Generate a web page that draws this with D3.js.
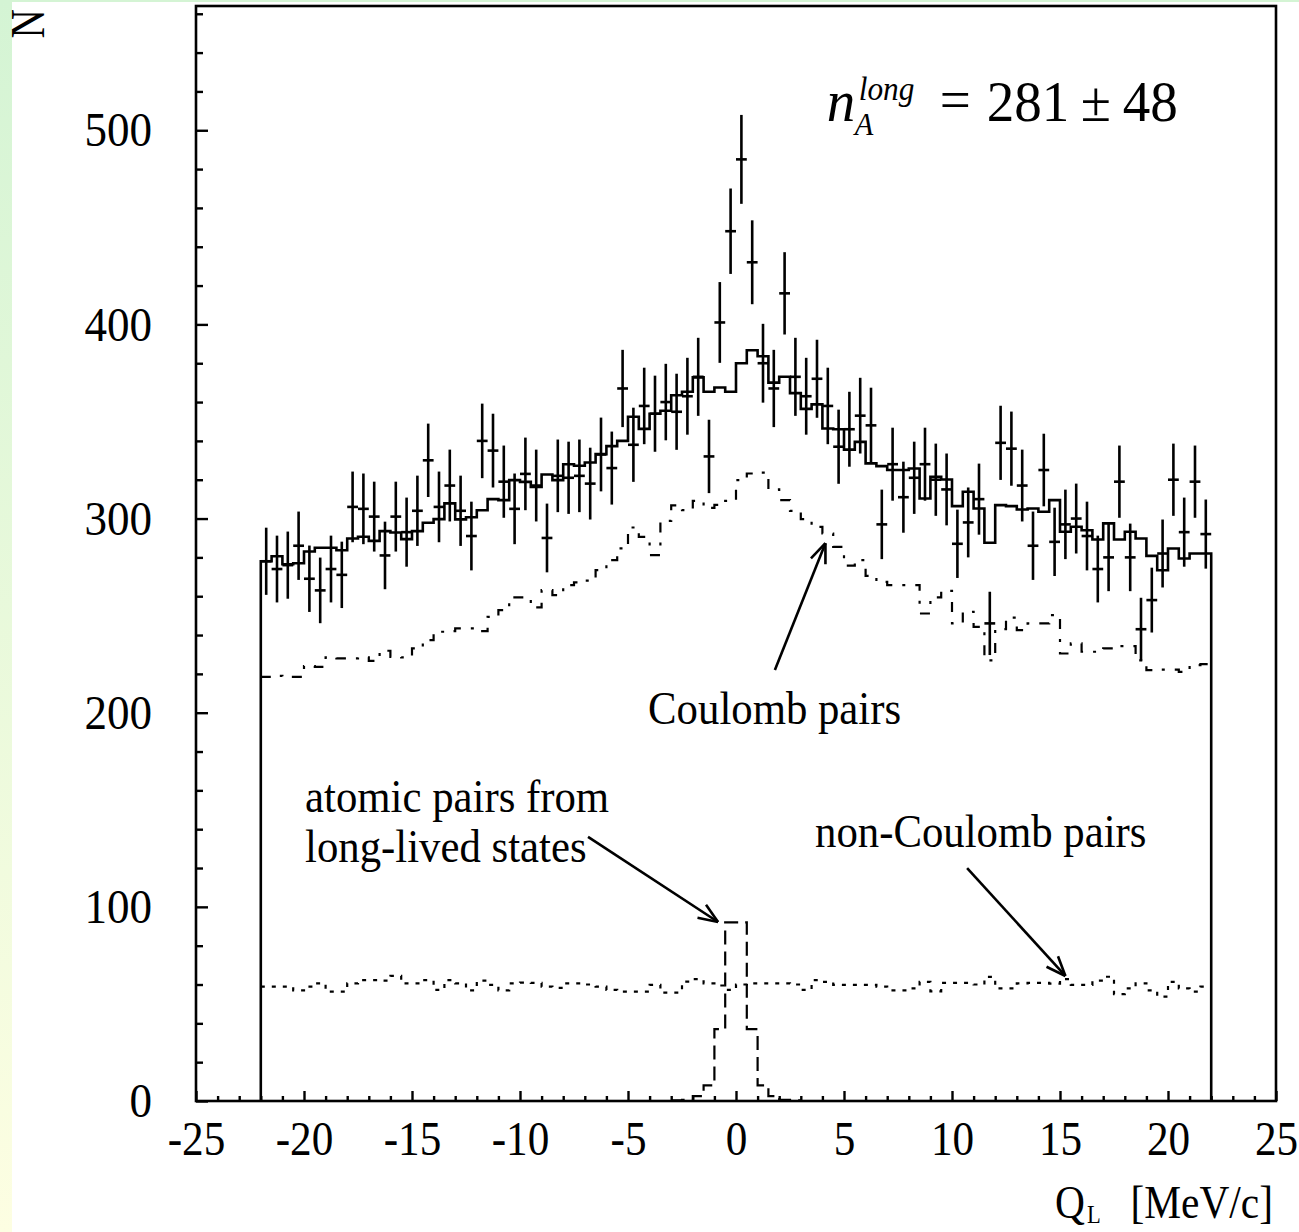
<!DOCTYPE html>
<html>
<head>
<meta charset="utf-8">
<script src="https://cdn.jsdelivr.net/npm/d3@7"></script>
<style>
  body { margin: 0; }
  svg { display: block; }
</style>
</head>
<body>
<svg id="chart" width="1299" height="1232"></svg>
<script>
// Histogram binning along Q_L (MeV/c)
const binLow = -22;
const binWidth = 0.5;

// Measured spectrum (counts per bin) and its errors
const dataCounts = [278, 274, 276, 286, 269, 263, 274, 271, 306, 305, 301, 281, 301, 293, 304, 330,
  306, 317, 304, 291, 340, 335, 319, 305, 323, 317, 290, 322, 321, 322, 318, 333,
  326, 367, 338, 358, 354, 360, 355, 363, 373, 332, 401, 448, 485, 432, 380, 367,
  416, 373, 363, 372, 358, 337, 346, 353, 348, 297, 328, 311, 321, 328, 320, 315,
  287, 298, 310, 246, 339, 336, 317, 286, 325, 288, 297, 300, 291, 274, 280, 319,
  280, 243, 258, 282, 320, 293, 319, 292];
const dataErrors = [17.3, 17.2, 17.3, 17.6, 17.1, 16.9, 17.2, 17.1, 18.2, 18.2, 18.0, 17.4, 18.0, 17.8, 18.1, 18.9,
  18.2, 18.5, 18.1, 17.7, 19.2, 19.0, 18.6, 18.2, 18.7, 18.5, 17.7, 18.7, 18.6, 18.7, 18.5, 19.0,
  18.8, 19.9, 19.1, 19.7, 19.6, 19.7, 19.6, 19.8, 20.1, 18.9, 20.8, 22.0, 22.9, 21.6, 20.3, 19.9,
  21.2, 20.1, 19.8, 20.1, 19.7, 19.1, 19.3, 19.5, 19.4, 17.9, 18.8, 18.3, 18.6, 18.8, 18.6, 18.5,
  17.6, 18.0, 18.3, 16.3, 19.1, 19.1, 18.5, 17.6, 18.7, 17.6, 17.9, 18.0, 17.7, 17.2, 17.4, 18.6,
  17.4, 16.2, 16.7, 17.5, 18.6, 17.8, 18.6, 17.8];

// Fitted sum (solid histogram)
const fitCounts = [278, 280.6, 276.5, 277, 283, 285, 285, 283.7, 289.7, 290.6, 288.5, 293.5, 292.8, 289.4, 293.5, 297.8,
  299.7, 307.8, 299.6, 300.7, 304.3, 310, 309.5, 319.8, 318.9, 316.3, 322.7, 319.8, 328, 327.2, 328.9, 333.2,
  337.3, 340, 352.4, 346.2, 354, 355.5, 363.5, 365.3, 372.7, 365.3, 367.5, 365.3, 380, 386.7, 383.6, 370,
  373, 364.6, 356.5, 358.8, 346.4, 346, 335.5, 339.5, 328.4, 327, 325, 325, 325.8, 310.3, 321.5, 320.1,
  306.4, 313.8, 305.2, 287.5, 306.9, 306.4, 304.7, 305.2, 303.5, 309.5, 293.2, 295.8, 294, 289.2, 297.5, 289.2,
  293.2, 289.7, 280.8, 273.4, 284.6, 279.4, 282, 282];

// Coulomb pairs component (dash-dotted)
const coulombCounts = [218.5, 219, 218.5, 218.5, 224, 223.6, 228.5, 228, 228, 228.5, 226.7, 231.9, 228.8, 228.5, 233.1, 237.4,
  241.7, 242, 243.4, 243.4, 242, 249.4, 252.8, 259.4, 259.4, 254.2, 263.1, 260.6, 265.7, 267.1, 268, 273.4,
  278.6, 284.6, 295.4, 290.6, 281.2, 298.8, 306.8, 304.3, 309.1, 305.5, 307, 309.1, 319.8, 323.2, 323.7, 315,
  309.5, 304, 299.7, 295.7, 292.3, 285.4, 275.8, 278.6, 270.5, 267.4, 265.7, 265.7, 265.7, 251.1, 259.4, 262.8,
  246, 252, 244.2, 227, 243, 249, 242.5, 246, 246, 250.3, 230.5, 235.7, 231.4, 231.4, 233.1, 234.3,
  234.3, 227, 221.9, 222.2, 222.2, 221, 224.5, 225];

// Non-Coulomb pairs component (dotted)
const nonCoulombCounts = [58.9, 58.9, 58.9, 57, 58.9, 60.6, 56.3, 56.3, 60.6, 62.3, 62.3, 62, 64.4, 60.6, 60.6, 62.3,
  57.2, 62.3, 60.6, 57, 62, 59.8, 57, 60.6, 61, 60.8, 58.9, 58.3, 60.6, 60.6, 60, 58.9,
  57.2, 56.3, 56.3, 56.3, 59.8, 55.8, 55.8, 61.5, 62.8, 60.6, 59.5, 57.2, 60, 60.6, 60.6, 60.6,
  60.6, 60, 57.2, 62.3, 61.4, 59.8, 59.8, 59.8, 59.8, 58.9, 57, 57, 58, 61.4, 56.5, 60.8,
  60.8, 60.8, 60, 63.9, 58, 58, 60.6, 60.8, 60.8, 60.5, 62.8, 59.8, 59.8, 62, 64, 55,
  58, 60.6, 57, 53.8, 61.4, 58, 56.3, 58.9];

// Atomic pairs from long-lived states (dashed), bins 38..49
const atomicFirstBin = 38;
const atomicCounts = [0.3, 0.6, 2.5, 8, 37, 92, 92, 37, 8, 2.5, 0.6, 0.3];

// Axis ticks
const xMajorTicks = [-25, -20, -15, -10, -5, 0, 5, 10, 15, 20, 25];
const xMinorTicks = d3.range(-25, 26, 1).filter(v => v % 5 !== 0);
const yMajorTicks = [0, 100, 200, 300, 400, 500];
const yMinorTicks = d3.range(20, 561, 20).filter(v => v % 100 !== 0);

// Text annotations (anchor positions in data units)
const labels = [
  { text: "Coulomb pairs", q: -4.07, n: 194 },
  { text: "atomic pairs from", q: -19.95, n: 148.8 },
  { text: "long-lived states", q: -19.95, n: 123 },
  { text: "non-Coulomb pairs", q: 3.66, n: 130.8 }
];
const arrows = [
  { from: [1.8, 222], to: [4.14, 287.3] },
  { from: [-6.85, 136], to: [-0.83, 92.2] },
  { from: [10.7, 120], to: [15.25, 64.4] }
];

const W = 1299, H = 1232;
const svg = d3.select("#chart");
const serif = "'Liberation Serif', 'Times New Roman', serif";

// Page background: green-to-yellow strip behind a white canvas
const defs = svg.append("defs");
const grad = defs.append("linearGradient").attr("id", "bg").attr("x1", 0).attr("y1", 0).attr("x2", 0).attr("y2", 1);
grad.append("stop").attr("offset", "0%").attr("stop-color", "#d4f4d4");
grad.append("stop").attr("offset", "100%").attr("stop-color", "#fdfee2");
svg.append("rect").attr("width", W).attr("height", H).attr("fill", "url(#bg)");
svg.append("rect").attr("x", 12).attr("y", 2).attr("width", W - 12).attr("height", H - 2).attr("fill", "#ffffff");

const x = d3.scaleLinear().domain([-25, 25]).range([196, 1276]);
const y = d3.scaleLinear().domain([0, 564]).range([1101, 6]);

const nBins = dataCounts.length;
const edge = i => binLow + i * binWidth;

const step = d3.line().x(d => x(d[0])).y(d => y(d[1])).curve(d3.curveStepAfter);

function stepPoints(counts, first) {
  const pts = counts.map((c, i) => [edge(first + i), c]);
  pts.push([edge(first + counts.length), counts[counts.length - 1]]);
  return pts;
}

const plot = svg.append("g");

// Non-Coulomb pairs (dotted)
plot.append("path")
  .attr("d", step(stepPoints(nonCoulombCounts, 0)))
  .attr("fill", "none").attr("stroke", "#000").attr("stroke-width", 2.2)
  .attr("stroke-dasharray", "4,7");

// Coulomb pairs (dash-dot)
plot.append("path")
  .attr("d", step(stepPoints(coulombCounts, 0)))
  .attr("fill", "none").attr("stroke", "#000").attr("stroke-width", 2.2)
  .attr("stroke-dasharray", "10,10,3,10");

// Atomic pairs (dashed)
plot.append("path")
  .attr("d", step(stepPoints(atomicCounts, atomicFirstBin)))
  .attr("fill", "none").attr("stroke", "#000").attr("stroke-width", 2.2)
  .attr("stroke-dasharray", "14,7");

// Fitted total (solid), closed down to zero at both ends
const fitPts = [[edge(0), 0]].concat(stepPoints(fitCounts, 0));
fitPts.push([edge(nBins), 0]);
plot.append("path")
  .attr("d", step(fitPts))
  .attr("fill", "none").attr("stroke", "#000").attr("stroke-width", 2.6);

// Data points with error bars
const pts = plot.append("g").attr("stroke", "#000").attr("stroke-width", 2.6);
dataCounts.forEach((c, i) => {
  const xc = x(edge(i) + binWidth / 2);
  pts.append("line").attr("x1", xc).attr("x2", xc)
    .attr("y1", y(c - dataErrors[i])).attr("y2", y(c + dataErrors[i]));
  pts.append("line").attr("x1", x(edge(i))).attr("x2", x(edge(i + 1)))
    .attr("y1", y(c)).attr("y2", y(c));
});

// Axes: ticks point into the frame
function squeeze(sel, k) {
  sel.each(function () {
    const tx = +(this.getAttribute("x") || 0);
    d3.select(this).attr("transform", `translate(${tx},0) scale(${k},1) translate(${-tx},0)`);
  });
}

const xAxis = svg.append("g").attr("transform", `translate(0,${y(0)})`)
  .call(d3.axisBottom(x).tickValues(xMajorTicks).tickSizeInner(-10).tickSizeOuter(0).tickPadding(20)
    .tickFormat(d3.format("d")));
xAxis.select(".domain").remove();
xAxis.selectAll("line").attr("stroke-width", 2.4);
xAxis.selectAll("text").attr("font-family", serif).attr("font-size", 48).attr("fill", "#000")
  .text(d => String(d).replace("\u2212", "-"));
squeeze(xAxis.selectAll("text"), 0.9);

const xMinor = svg.append("g").attr("transform", `translate(0,${y(0)})`)
  .call(d3.axisBottom(x).tickValues(xMinorTicks).tickSizeInner(-5).tickSizeOuter(0).tickFormat(""));
xMinor.select(".domain").remove();
xMinor.selectAll("line").attr("stroke-width", 2.4);

const yAxis = svg.append("g").attr("transform", `translate(${x(-25)},0)`)
  .call(d3.axisLeft(y).tickValues(yMajorTicks).tickSizeInner(-12).tickSizeOuter(0).tickPadding(44)
    .tickFormat(d3.format("d")));
yAxis.select(".domain").remove();
yAxis.selectAll("line").attr("stroke-width", 2.4);
yAxis.selectAll("text").attr("font-family", serif).attr("font-size", 49).attr("fill", "#000");
squeeze(yAxis.selectAll("text"), 0.92);

const yMinor = svg.append("g").attr("transform", `translate(${x(-25)},0)`)
  .call(d3.axisLeft(y).tickValues(yMinorTicks).tickSizeInner(-7).tickSizeOuter(0).tickFormat(""));
yMinor.select(".domain").remove();
yMinor.selectAll("line").attr("stroke-width", 2.4);

// Frame
svg.append("rect")
  .attr("x", x(-25)).attr("y", y(564))
  .attr("width", x(25) - x(-25)).attr("height", y(0) - y(564))
  .attr("fill", "none").attr("stroke", "#000").attr("stroke-width", 2.6);

// Axis titles
svg.append("text")
  .attr("transform", "translate(44,9) rotate(-90) scale(0.85,1)")
  .attr("text-anchor", "end").attr("font-family", serif).attr("font-size", 48).text("N");

function putText(txt, px, py, size, k, opts = {}) {
  const t = svg.append("text")
    .attr("transform", `translate(${px},${py}) scale(${k},1)`)
    .attr("font-family", serif).attr("font-size", size)
    .attr("text-anchor", opts.anchor || "start")
    .attr("font-style", opts.italic ? "italic" : "normal")
    .text(txt);
  return t;
}

putText("Q", 1055, 1218, 46, 0.9);
putText("L", 1087, 1223, 25, 0.9);
putText("[MeV/c]", 1273, 1218, 46, 0.9, { anchor: "end" });

// Fit result n_A^long = 281 ± 48
const fx = x(4.2), fy = y(505);
putText("n", fx, fy, 60, 0.95, { italic: true });
putText("long", fx + 32, fy - 21, 33, 0.95, { italic: true });
putText("A", fx + 28, fy + 14, 32, 0.95, { italic: true });
putText("=", fx + 113, fy - 2, 58, 0.95);
putText("281", fx + 160, fy, 58, 0.95);
putText("\u00b1", fx + 254, fy, 58, 0.95);
putText("48", fx + 296, fy, 58, 0.95);

// Component labels
labels.forEach(l => putText(l.text, x(l.q), y(l.n), 46, 0.93));

// Arrows pointing at the components
const arrowG = svg.append("g").attr("stroke", "#000").attr("stroke-width", 2.6).attr("fill", "none");
arrows.forEach(a => {
  const x0 = x(a.from[0]), y0 = y(a.from[1]);
  const x1 = x(a.to[0]), y1 = y(a.to[1]);
  arrowG.append("line").attr("x1", x0).attr("y1", y0).attr("x2", x1).attr("y2", y1);
  const ang = Math.atan2(y0 - y1, x0 - x1);
  const len = 21, spread = 0.38;
  [ang - spread, ang + spread].forEach(t => {
    arrowG.append("line").attr("x1", x1).attr("y1", y1)
      .attr("x2", x1 + len * Math.cos(t)).attr("y2", y1 + len * Math.sin(t));
  });
});
</script>
</body>
</html>
